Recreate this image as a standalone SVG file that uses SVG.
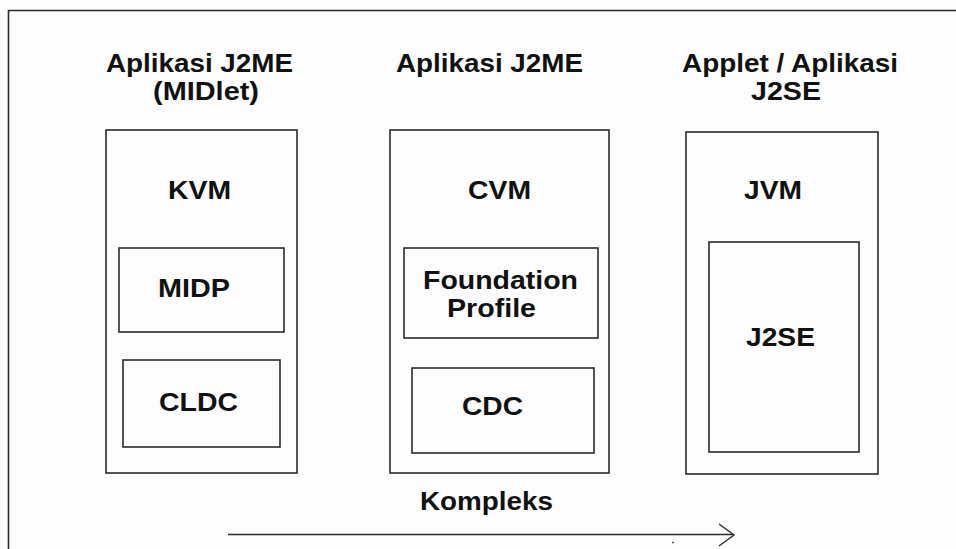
<svg xmlns="http://www.w3.org/2000/svg" width="956" height="549" viewBox="0 0 956 549">
<style>
.bg{fill:#fdfdfd}
.box{fill:none;stroke:#2a2a2a;stroke-width:1.6}
.t{font-family:"Liberation Sans",Arial,sans-serif;font-weight:bold;font-size:25px;fill:#111}
.conn{fill:none;stroke:#2a2a2a;stroke-width:1.4}
</style>
<rect class="bg" x="0" y="0" width="956" height="549"/>
<g id="frame"><path class="box" d="M8.5,549 V10.5 H956"/></g>
<g id="title1">
<text class="t" x="106" y="72" textLength="187" lengthAdjust="spacingAndGlyphs">Aplikasi J2ME</text>
<text class="t" x="153" y="100" textLength="106" lengthAdjust="spacingAndGlyphs">(MIDlet)</text>
</g>
<g id="title2"><text class="t" x="396" y="72" textLength="187" lengthAdjust="spacingAndGlyphs">Aplikasi J2ME</text></g>
<g id="title3">
<text class="t" x="682" y="72" textLength="216" lengthAdjust="spacingAndGlyphs">Applet / Aplikasi</text>
<text class="t" x="751" y="100" textLength="70" lengthAdjust="spacingAndGlyphs">J2SE</text>
</g>
<g id="kvm">
<rect class="box" x="106" y="130" width="191" height="343"/>
<text class="t" x="168" y="199" textLength="63" lengthAdjust="spacingAndGlyphs">KVM</text>
</g>
<g id="midp">
<rect class="box" x="119" y="248" width="165" height="84"/>
<text class="t" x="158" y="297" textLength="72" lengthAdjust="spacingAndGlyphs">MIDP</text>
</g>
<g id="cldc">
<rect class="box" x="123" y="360" width="157" height="87"/>
<text class="t" x="159" y="411" textLength="79" lengthAdjust="spacingAndGlyphs">CLDC</text>
</g>
<g id="cvm">
<rect class="box" x="390" y="130" width="219" height="343"/>
<text class="t" x="468" y="199" textLength="63" lengthAdjust="spacingAndGlyphs">CVM</text>
</g>
<g id="foundation">
<rect class="box" x="404" y="248" width="194" height="90"/>
<text class="t" x="423" y="289" textLength="155" lengthAdjust="spacingAndGlyphs">Foundation</text>
<text class="t" x="447" y="317" textLength="89" lengthAdjust="spacingAndGlyphs">Profile</text>
</g>
<g id="cdc">
<rect class="box" x="412" y="368" width="182" height="85"/>
<text class="t" x="462" y="415" textLength="61" lengthAdjust="spacingAndGlyphs">CDC</text>
</g>
<g id="jvm">
<rect class="box" x="686" y="132" width="192" height="342"/>
<text class="t" x="744" y="199" textLength="58" lengthAdjust="spacingAndGlyphs">JVM</text>
</g>
<g id="j2se">
<rect class="box" x="709" y="242" width="150" height="210"/>
<text class="t" x="746" y="346" textLength="69" lengthAdjust="spacingAndGlyphs">J2SE</text>
</g>
<g id="kompleks"><text class="t" x="420" y="510" textLength="133" lengthAdjust="spacingAndGlyphs">Kompleks</text></g>
<g id="connectors">
<path class="conn" d="M228,534.5 H733"/>
<path class="conn" d="M719,524 L734,535 L719,546"/>
<circle cx="673" cy="542.5" r="0.9" fill="#444"/>
</g>
</svg>
